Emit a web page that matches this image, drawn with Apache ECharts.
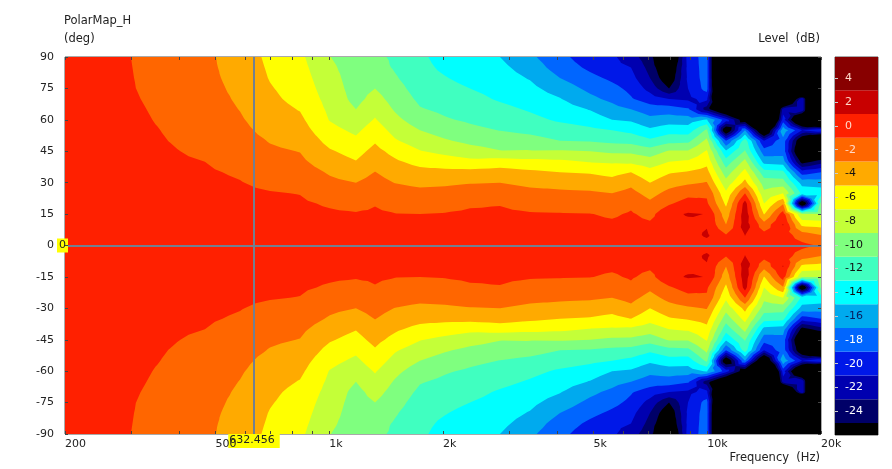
<!DOCTYPE html>
<html><head><meta charset="utf-8">
<style>html,body{margin:0;padding:0;background:#fff}#c{width:892px;height:469px}</style>
<script src="https://cdn.jsdelivr.net/npm/echarts@6/dist/echarts.min.js"></script>
</head><body><div id="c"></div>
<script>
const frequencies=[200,247,306,379,469,581,697,837,1004,1177,1322,1493,1738,2025,2358,2830,3398,4079,4898,5600,6286,7057,7925,8897,9977,11213,12589,14135,15873,17820,20000];
// Off-axis angles, 90 deg down to 0 deg. The lower half of the map repeats them.
const anglesDeg=[90,85,80,75,70,65,60,55,50,45,40,35,30,25,20,15,10,5,0];
const f200=[-0.45,-0.42,-0.4,-0.38,-0.35,-0.32,-0.3,-0.27,-0.25,-0.22,-0.2,-0.17,-0.15,-0.12,-0.1,-0.07,-0.05,-0.02,0];
const f247=[-0.6,-0.58,-0.55,-0.52,-0.48,-0.45,-0.42,-0.38,-0.35,-0.3,-0.26,-0.22,-0.18,-0.15,-0.12,-0.09,-0.06,-0.03,0];
const f306=[-1.05,-1.03,-1.01,-0.98,-0.9,-0.8,-0.7,-0.6,-0.5,-0.4,-0.35,-0.3,-0.25,-0.2,-0.15,-0.1,-0.05,-0.02,0];
const f379=[-1.9,-1.8,-1.7,-1.6,-1.5,-1.4,-1.3,-1.15,-1.03,-0.85,-0.7,-0.55,-0.4,-0.3,-0.2,-0.12,-0.06,-0.02,0];
const f469=[-2.55,-2.5,-2.45,-2.35,-2.25,-2.1,-1.95,-1.8,-1.6,-1.35,-1,-0.8,-0.6,-0.45,-0.3,-0.2,-0.1,-0.03,0];
const f581=[-4,-3.85,-3.65,-3.45,-3.25,-3.05,-2.8,-2.5,-2.25,-2,-1.6,-1.2,-0.93,-0.7,-0.5,-0.3,-0.15,-0.05,0];
const f697=[-5.4,-5.25,-5.1,-4.85,-4.6,-4.3,-4,-3.6,-3.1,-2.7,-2.3,-1.9,-1.4,-0.9,-0.65,-0.4,-0.2,-0.08,0];
const f837=[-6.6,-6.35,-6.1,-5.85,-5.55,-5.1,-4.6,-4.1,-3.6,-3.05,-2.6,-2.1,-1.6,-1.05,-0.75,-0.45,-0.25,-0.1,0];
const f1004=[-8.95,-8.6,-8.3,-8,-7.7,-7.4,-7.1,-6.4,-5.6,-4.8,-4.05,-3.2,-2.6,-1.9,-1.2,-0.75,-0.4,-0.15,0];
const f1177=[-10.2,-10,-9.9,-9.8,-9.6,-9,-8.2,-7.4,-6.6,-5.7,-4.9,-3.9,-3,-2.3,-1.6,-0.85,-0.5,-0.2,0];
const f1322=[-10.6,-10.2,-9.6,-9,-8.3,-7.55,-6.85,-6,-5.2,-4.4,-3.7,-2.95,-2.3,-1.7,-1.1,-0.75,-0.4,-0.15,0];
const f1493=[-11.3,-11.2,-10.8,-10.25,-9.75,-9.2,-8.5,-7.64,-6.8,-5.63,-4.7,-3.85,-3.05,-2.3,-1.6,-0.95,-0.55,-0.2,0];
const f1738=[-12.6,-12.4,-12.2,-11.9,-11.4,-10.85,-10,-9,-8,-6.9,-5.6,-4.4,-3.4,-2.55,-1.8,-1,-0.6,-0.25,0];
const f2025=[-13.8,-13.4,-12.9,-12.4,-12,-11.4,-10.8,-9.8,-8.8,-7.5,-6.1,-4.45,-3.3,-2.4,-1.65,-0.9,-0.55,-0.25,0];
const f2358=[-14.4,-14.05,-13.6,-13,-12.45,-11.85,-11.3,-10.5,-9.5,-8.15,-6.5,-4.4,-3.1,-2.15,-1.25,-0.7,-0.4,-0.15,0];
const f2830=[-15,-14.5,-14.1,-13.6,-13.2,-12.5,-11.85,-11.05,-10,-8.9,-6.1,-4.2,-3,-2,-1.1,-0.65,-0.35,-0.15,0];
const f3398=[-16.6,-15.9,-15.15,-14.5,-13.9,-13.2,-12.45,-11.45,-10.35,-8.85,-6.35,-4.65,-3.45,-2.45,-1.65,-0.85,-0.5,-0.2,0];
const f4079=[-18.4,-17.9,-17,-15.9,-14.9,-14.1,-13.3,-12,-11,-8.8,-6.6,-5,-3.75,-2.6,-1.75,-0.9,-0.5,-0.2,0];
const f4898=[-20.2,-19.4,-18.45,-17.5,-16.5,-15.1,-13.95,-12.55,-11.15,-9,-7.1,-5.2,-3.9,-2.75,-1.85,-0.95,-0.55,-0.25,0];
const f5600=[-20.6,-20.4,-19.4,-18.4,-17.5,-16.25,-15,-13,-11.5,-9.4,-7.3,-5.6,-4.3,-3,-2.15,-1.25,-0.7,-0.3,0];
const f6286=[-22.2,-21,-20.3,-19.5,-18.8,-17,-15.3,-13.5,-11.7,-9.45,-7.4,-5,-3.5,-2.4,-1.4,-0.8,-0.45,-0.2,0];
const f7057=[-24.2,-23.7,-23,-21.7,-20,-18,-16.4,-14.6,-12.6,-10.1,-8.1,-6.3,-5,-3.7,-2.6,-1.55,-0.7,-0.3,0];
const f7925=[-30,-28,-27,-25,-21,-18,-16,-13.8,-11.7,-8.8,-7,-5.2,-3.8,-2.4,-1.2,0.4,0.2,0.1,0];
const f8897=[-20.2,-20.4,-20.6,-21,-21.4,-18.7,-16,-14,-11.5,-8.8,-6.7,-4.85,-3.3,-1.5,-0.3,1.2,0.4,0.2,0];
const f9977=[-18,-18,-18,-18.2,-20.5,-24,-14.8,-10.6,-8.5,-6.8,-5.6,-4.3,-2.9,-1.3,-0.7,0.95,0.8,1.3,0.2];
const f11213=[-45,-45,-45,-42,-38,-30,-20,-28,-19,-14.7,-12.2,-10.1,-8.3,-6.6,-5.4,-4.1,-3,-0.9,-0.2];
const f12589=[-45,-45,-45,-45,-42,-38,-27,-17,-12,-10.8,-8.4,-6.3,-4.4,-1,1.8,2.2,2,1.05,0];
const f14135=[-45,-45,-45,-45,-45,-45,-42,-30,-21,-18.2,-15.7,-12.2,-10,-8.5,-7,-5.1,-2.2,-0.4,-0.1];
const f15873=[-45,-45,-45,-45,-35,-22,-20,-15.5,-17.8,-17.8,-16,-12.5,-10.1,-7,-3.2,-0.1,1.1,0,0];
const f17820=[-45,-45,-45,-45,-21,-21,-32,-21,-28,-30,-26,-20,-15.8,-13.5,-29,-9,-5.5,-2,-0.5];
const f20000=[-45,-45,-45,-45,-45,-45,-40,-19,-35,-30,-24,-19,-16,-13.8,-10.5,-9,-5.8,-3,-1.2];
const levelColumns=[f200,f247,f306,f379,f469,f581,f697,f837,f1004,f1177,f1322,f1493,f1738,f2025,f2358,f2830,f3398,f4079,f4898,f5600,f6286,f7057,f7925,f8897,f9977,f11213,f12589,f14135,f15873,f17820,f20000];
// Contour bands: lower edge, upper edge, colour
const bandLow=[-60,-25,-23,-21,-19,-17,-15,-13,-11,-9,-7,-5,-3,-1,1,3];
const bandHigh=[-25,-23,-21,-19,-17,-15,-13,-11,-9,-7,-5,-3,-1,1,3,5.8];
const bandColors=['#000000','#000068','#0000b0','#0018e8','#0066ff','#00aaee','#00ffff','#40ffc0','#7fff7f','#c4ff38','#ffff00','#ffaa00','#ff6600','#ff2000','#c80000','#880000'];
const colorbarTicks=[4,2,0,-2,-4,-6,-8,-10,-12,-14,-16,-18,-20,-22,-24];
const xLabelFreqs=[200,500,1000,2000,5000,10000,20000];
const xTickFreqs=[200,300,400,500,600,700,800,900,1000,2000,3000,4000,5000,6000,7000,8000,9000,10000,20000];
const cursorFreq=632.456, cursorAngle=0;
const FONT='"DejaVu Sans"';
const TXT='#222';

// full signed-angle grid (top to bottom)
const gridAngles=anglesDeg.concat(anglesDeg.slice(0,-1).reverse().map(a=>-a));
const gridValues=levelColumns.map(col=>col.concat(col.slice(0,-1).reverse()));

function clipAbove(poly,t){
  const out=[];
  for(let i=0;i<poly.length;i++){
    const a=poly[i],b=poly[(i+1)%poly.length];
    const ia=a[2]>=t,ib=b[2]>=t;
    if(ia)out.push(a);
    if(ia!==ib){
      const k=(t-a[2])/(b[2]-a[2]);
      out.push([a[0]+(b[0]-a[0])*k,a[1]+(b[1]-a[1])*k,t]);
    }
  }
  return out;
}
function renderBand(params,api){
  const idx=api.value(2), t=bandLow[idx];
  const px=frequencies.map((f,i)=>gridAngles.map((a,j)=>{
    const p=api.coord([f,a]);return [p[0],p[1],gridValues[i][j]];
  }));
  let d='';
  const add=tri=>{
    const poly=clipAbove(tri,t);
    if(poly.length<3)return;
    d+='M'+poly.map(p=>p[0].toFixed(2)+' '+p[1].toFixed(2)).join('L')+'Z';
  };
  for(let i=0;i<px.length-1;i++)for(let j=0;j<gridAngles.length-1;j++){
    const A=px[i][j],B=px[i+1][j],C=px[i+1][j+1],D=px[i][j+1];
    const M=[0,1,2].map(k=>(A[k]+B[k]+C[k]+D[k])/4);
    add([A,B,M]);add([B,C,M]);add([C,D,M]);add([D,A,M]);
  }
  if(!d)return null;
  return {type:'path',silent:true,shape:{pathData:d},style:{fill:bandColors[idx],stroke:null}};
}
function renderBar(params,api){
  const lo=api.coord([0,api.value(0)]),hi=api.coord([1,api.value(1)]);
  return {type:'rect',silent:true,shape:{x:lo[0],y:hi[1],width:hi[0]-lo[0],height:lo[1]-hi[1]},style:{fill:bandColors[api.value(2)]}};
}
const fmtFreq=v=>{v=Math.round(v);return v>=1000?(v/1000)+'k':String(v);};
const titleStyle={fontFamily:FONT,fontSize:11.5,fontWeight:'normal',color:TXT};
const chart=echarts.init(document.getElementById('c'),null,{renderer:'canvas'});
chart.setOption({
  animation:false,backgroundColor:'#fff',
  textStyle:{fontFamily:FONT},
  title:[
    {text:'PolarMap_H',left:64,top:15,padding:0,textStyle:titleStyle},
    {text:'(deg)',left:64,top:33,padding:0,textStyle:titleStyle},
    {text:'Level  (dB)',right:72,top:33,padding:0,textStyle:titleStyle},
    {text:'Frequency  (Hz)',right:72,top:452,padding:0,textStyle:titleStyle}
  ],
  grid:[
    {left:65,top:57,width:756,height:377,show:true,borderColor:'#555',borderWidth:1,backgroundColor:'#000'},
    {left:835,top:57,width:43,height:378,show:true,borderColor:'#555',borderWidth:1}
  ],
  xAxis:[
    {type:'log',logBase:10,gridIndex:0,min:200,max:20000,position:'bottom',z:10,splitLine:{show:false},minorTick:{show:false},
     axisLine:{show:false,onZero:false},
     axisTick:{show:true,inside:true,length:3,lineStyle:{color:'#444'},customValues:xTickFreqs},
     axisLabel:{show:true,customValues:xLabelFreqs,align:'left',margin:5,fontFamily:FONT,fontSize:11,color:TXT,formatter:fmtFreq,hideOverlap:false,showMinLabel:true,showMaxLabel:true}},
    {type:'log',logBase:10,gridIndex:0,min:200,max:20000,position:'top',z:10,splitLine:{show:false},
     axisLine:{show:false,onZero:false},axisLabel:{show:false},
     axisTick:{show:true,inside:true,length:3,lineStyle:{color:'#444'},customValues:xTickFreqs}},
    {type:'value',gridIndex:1,min:0,max:1,show:false}
  ],
  yAxis:[
    {type:'value',gridIndex:0,min:-90,max:90,interval:15,position:'left',z:10,splitLine:{show:false},axisLine:{show:false,onZero:false},
     axisTick:{show:true,inside:true,length:3,lineStyle:{color:'#444'}},
     axisLabel:{margin:11,fontFamily:FONT,fontSize:11,color:TXT,showMinLabel:true,showMaxLabel:true}},
    {type:'value',gridIndex:0,min:-90,max:90,interval:15,position:'right',z:10,splitLine:{show:false},axisLine:{show:false,onZero:false},axisLabel:{show:false},
     axisTick:{show:true,inside:true,length:3,lineStyle:{color:'#444'}}},
    {type:'value',gridIndex:1,min:-26,max:5.8,interval:2,position:'left',z:10,splitLine:{show:false},axisLine:{show:false,onZero:false},
     axisTick:{show:true,inside:true,length:3,lineStyle:{color:'#ccc'},customValues:colorbarTicks},
     axisLabel:{inside:true,margin:10,align:'left',fontFamily:FONT,fontSize:11,customValues:colorbarTicks,
       color:v=>{v=+v;return (v>=-2)?'#ffd8c8':(v>=-14?'#111':(v===-16?'#062060':'#fff'));}}}
  ],
  series:[
    {type:'custom',xAxisIndex:0,yAxisIndex:0,clip:true,silent:true,encode:{x:0,y:1},
     data:bandLow.map((b,i)=>[200,0,i]),renderItem:renderBand,z:2},
    {type:'custom',xAxisIndex:2,yAxisIndex:2,silent:true,encode:{x:[],y:[0,1]},
     data:bandLow.map((b,i)=>[Math.max(b,-26),bandHigh[i],i]),renderItem:renderBar,z:2},
    {type:'line',xAxisIndex:0,yAxisIndex:0,data:[],silent:true,z:5,
     markLine:{silent:true,symbol:'none',animation:false,z:6,
       lineStyle:{color:'#72808f',width:2,type:'solid'},
       data:[
        {xAxis:cursorFreq,label:{show:true,position:'start',formatter:String(cursorFreq),distance:0,backgroundColor:'#ffff00',color:'#222',padding:[1,5,2,1],fontFamily:FONT,fontSize:11}},
        {yAxis:cursorAngle,label:{show:true,position:'start',formatter:String(cursorAngle),distance:-3,backgroundColor:'#ffff00',color:'#222',padding:[1,2,2,2],fontFamily:FONT,fontSize:11}}
       ]}}
  ]
});
</script></body></html>
